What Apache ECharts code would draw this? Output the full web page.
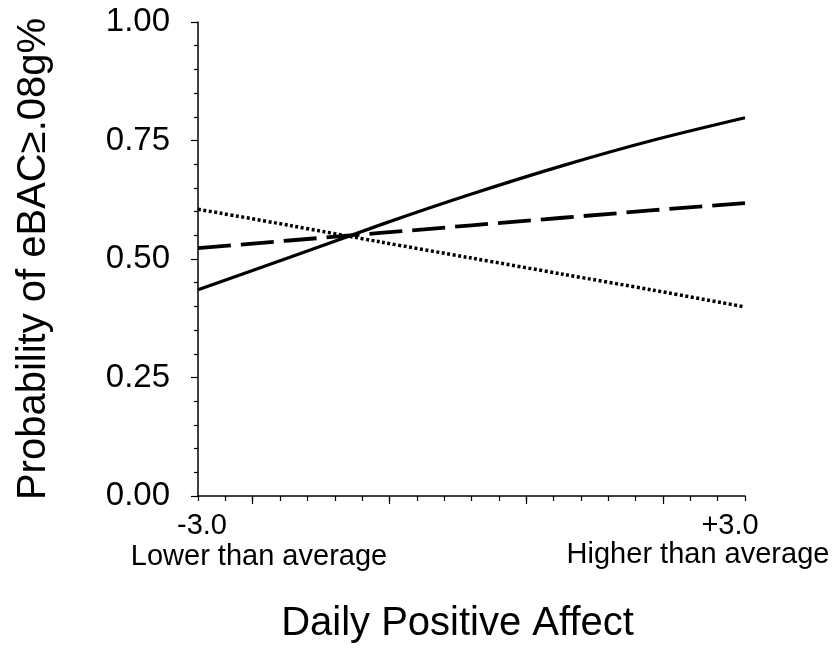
<!DOCTYPE html>
<html>
<head>
<meta charset="utf-8">
<script src="https://cdn.jsdelivr.net/npm/echarts@6/dist/echarts.min.js"></script>
<style>
  html, body { margin: 0; padding: 0; background: #fff; }
  #chart { width: 835px; height: 649px; }
</style>
</head>
<body>
<div id="chart"></div>
<script>
// daily positive affect (centered)
const affect = [-3, -2, -1, 0, 1, 2, 3];
const solidLine = [0.435, 0.503, 0.572, 0.637, 0.697, 0.751, 0.798];
const dashedLine = [0.523, 0.539, 0.555, 0.571, 0.587, 0.603, 0.618];
const dottedLine = [0.605, 0.571, 0.536, 0.502, 0.468, 0.434, 0.399];

const majorXTicks = [-2.4, -0.9, 0.6, 2.1];
const xEndLabels = ["-3.0", "+3.0"];
const xEndNotes = ["Lower than average", "Higher than average"];

const font = "'Liberation Sans', Arial, sans-serif";

function pairs(ys) {
    return affect.map((x, i) => [x, ys[i]]);
}

const chart = echarts.init(document.getElementById("chart"));

const option = {
    animation: false,
    backgroundColor: "#fff",
    grid: { left: 198, right: 90, top: 22, bottom: 151 },
    xAxis: [
        {
            type: "value",
            min: -3,
            max: 3,
            interval: 0.3,
            axisLine: { onZero: false, lineStyle: { color: "#000", width: 1.5 } },
            axisTick: { length: 5, lineStyle: { color: "#000", width: 1.2 } },
            axisLabel: { show: false },
            splitLine: { show: false },
            name: "Daily Positive Affect",
            nameLocation: "middle",
            nameGap: 108,
            nameTextStyle: {
                fontFamily: font,
                fontSize: 40,
                color: "#000",
                padding: [0, 28, 0, 0],
            },
        },
        {
            // the longer ticks
            type: "value",
            min: -3,
            max: 3,
            position: "bottom",
            axisLine: { show: false, onZero: false },
            axisTick: {
                length: 8,
                customValues: majorXTicks,
                lineStyle: { color: "#000", width: 1.2 },
            },
            axisLabel: { show: false },
            splitLine: { show: false },
        },
    ],
    yAxis: {
        type: "value",
        min: 0,
        max: 1,
        interval: 0.25,
        axisLine: { show: true, onZero: false, lineStyle: { color: "#000", width: 1.5 } },
        axisTick: { show: true, length: 7, lineStyle: { color: "#000", width: 1.2 } },
        minorTick: { show: true, splitNumber: 5, length: 4, lineStyle: { color: "#000", width: 1.2 } },
        splitLine: { show: false },
        axisLabel: {
            margin: 28,
            fontFamily: font,
            fontSize: 33,
            color: "#000",
            formatter: (v) => v.toFixed(2),
        },
        name: "Probability of eBAC≥.08g%",
        nameLocation: "middle",
        nameRotate: 90,
        nameGap: 144,
        nameTextStyle: { fontFamily: font, fontSize: 40, color: "#000" },
    },
    graphic: [
        {
            type: "text",
            x: 202,
            y: 526,
            style: { text: xEndLabels[0], font: "29px " + font, fill: "#000", align: "center", verticalAlign: "middle" },
        },
        {
            type: "text",
            x: 730,
            y: 526,
            style: { text: xEndLabels[1], font: "29px " + font, fill: "#000", align: "center", verticalAlign: "middle" },
        },
        {
            type: "text",
            x: 259,
            y: 557,
            style: { text: xEndNotes[0], font: "29px " + font, fill: "#000", align: "center", verticalAlign: "middle" },
        },
        {
            type: "text",
            x: 698,
            y: 555,
            style: { text: xEndNotes[1], font: "29px " + font, fill: "#000", align: "center", verticalAlign: "middle" },
        },
    ],
    series: [
        {
            type: "line",
            data: pairs(solidLine),
            showSymbol: false,
            smooth: 0.3,
            lineStyle: { color: "#000", width: 3.2, type: "solid" },
        },
        {
            type: "line",
            data: pairs(dashedLine),
            showSymbol: false,
            lineStyle: { color: "#000", width: 3.8, type: [33, 10], cap: "butt" },
        },
        {
            type: "line",
            data: pairs(dottedLine),
            showSymbol: false,
            smooth: 0.3,
            lineStyle: { color: "#000", width: 3.5, type: [3, 2.5], cap: "butt" },
        },
    ],
};

chart.setOption(option);
</script>
</body>
</html>
